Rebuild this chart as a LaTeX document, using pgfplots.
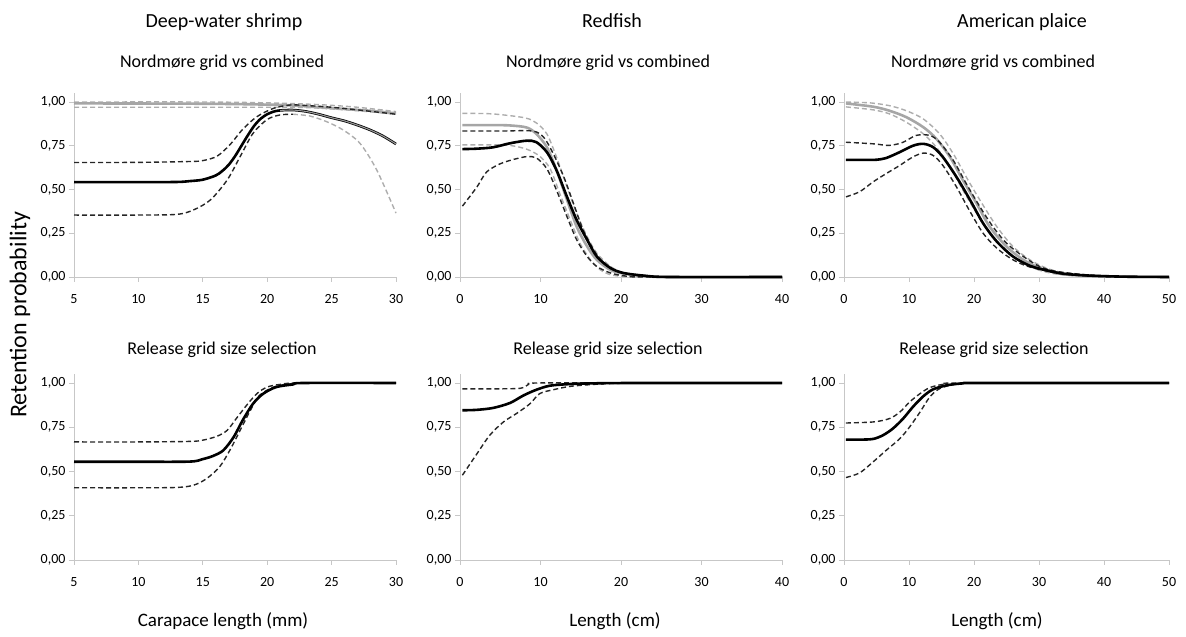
\documentclass[border=0pt]{standalone}
\usepackage{pgfplots}
\pgfplotsset{compat=1.18}
\usepackage{fontspec}
\setmainfont{Carlito}
\begin{document}
\begin{tikzpicture}
\path[use as bounding box] (0pt,0pt) rectangle (1186pt,637pt);
\pgfplotsset{
 panel/.style={scale only axis, axis x line=bottom, axis y line=left,
  axis line style={-, draw=black!22, line width=0.9pt},
  tick style={draw=black!22, line width=0.9pt}, tick align=outside, major tick length=5pt,
  ymin=0, ymax=1.05, ytick={0,0.25,0.5,0.75,1},
  yticklabel style={/pgf/number format/.cd, use comma, fixed, fixed zerofill, precision=2, assume math mode=true},
  xticklabel style={/pgf/number format/assume math mode=true, yshift=-9pt},
  ticklabel style={font=\fontsize{14}{16}\selectfont},
  anchor=south west, clip=false},
 toprow/.style={height=183.75pt, at={(#1pt,360pt)}},
 botrow/.style={height=185.85pt, at={(#1pt,77pt)}},
 blk/.style={black, line width=2.6pt, smooth},
 blkd/.style={black!85, line width=1.4pt, dash pattern=on 5pt off 3pt, smooth},
 gry/.style={black!35, line width=2.6pt, smooth},
 gryd/.style={black!32, line width=1.4pt, dash pattern=on 5pt off 3pt, smooth},
}
% ---------- Panel 1 ----------
\begin{axis}[panel, toprow=74, width=322pt, xmin=5, xmax=30, xtick={5,10,...,30}]
\addplot[gryd] coordinates {(5,1.0)(15,1.0)(20,0.995)(24,0.985)(27,0.97)(30,0.945)};
\addplot[gry] coordinates {(5,0.992)(15,0.99)(20,0.985)(22,0.98)(24,0.97)(26,0.96)(28,0.95)(30,0.935)};
\addplot[gryd] coordinates {(5,0.97)(20,0.97)(22,0.97)(24,0.965)(27,0.95)(30,0.93)};
\addplot[gryd] coordinates {(22,0.93)(23.3,0.92)(24.6,0.888)(25.9,0.84)(27.2,0.764)(28.5,0.612)(30,0.365)};
\addplot[blkd] coordinates {(5,0.654)(10,0.655)(14,0.66)(15,0.665)(16.1,0.69)(17.1,0.755)(18.1,0.844)(19.2,0.916)(20.5,0.964)(21.8,0.983)(23,0.98)(25,0.97)(27,0.955)(30,0.93)};
\addplot[blkd] coordinates {(5,0.354)(10,0.354)(13,0.358)(14.3,0.384)(15.6,0.441)(16.9,0.555)(17.9,0.688)(18.9,0.821)(20,0.90)(21,0.926)(22,0.93)};
\addplot[blk] coordinates {(5,0.542)(10,0.542)(13,0.543)(14,0.548)(15,0.556)(16,0.58)(16.5,0.605)(17,0.64)(17.5,0.69)(18,0.75)(18.5,0.81)(19,0.865)(19.5,0.905)(20,0.93)(20.5,0.945)(21,0.952)(22,0.954)(23,0.946)(24,0.93)(25,0.91)(26,0.892)(27,0.868)(28,0.84)(29,0.805)(30,0.76)};
\addplot[black!40, line width=1.1pt, smooth] coordinates {(21,0.952)(22,0.954)(23,0.946)(24,0.93)(25,0.91)(26,0.892)(27,0.868)(28,0.84)(29,0.805)(30,0.76)};
\end{axis}
% ---------- Panel 2 ----------
\begin{axis}[panel, toprow=460, width=322pt, xmin=0, xmax=40, xtick={0,10,...,40}]
\addplot[gryd] coordinates {(0.3,0.935)(4,0.932)(8,0.91)(9.5,0.88)(10.8,0.817)(12,0.684)(13.3,0.514)(14.5,0.363)(15.8,0.23)(17,0.136)(18.7,0.06)(20.5,0.02)(23,0.004)(26,0)(40,0)};
\addplot[gryd] coordinates {(0.3,0.755)(4,0.755)(6.2,0.752)(8.3,0.73)(9.9,0.69)(11.2,0.618)(12.4,0.476)(13.7,0.325)(14.9,0.193)(16.2,0.098)(17.4,0.042)(18.7,0.013)(20.5,0.003)(23,0)(40,0)};
\addplot[gry] coordinates {(0.3,0.868)(4,0.868)(6.2,0.866)(8.3,0.854)(9.5,0.817)(10.8,0.741)(12,0.609)(13.3,0.44)(14.5,0.287)(15.8,0.174)(17,0.098)(18.7,0.04)(20.3,0.02)(23,0.005)(26,0)(40,0)};
\addplot[blkd] coordinates {(0.3,0.834)(5,0.834)(9,0.834)(10.4,0.798)(11.6,0.703)(12.9,0.571)(14.1,0.42)(15.3,0.268)(16.6,0.155)(17.8,0.079)(19.5,0.032)(21.2,0.013)(24,0.003)(27,0)(40,0)};
\addplot[blkd] coordinates {(0.3,0.405)(2.1,0.514)(3.3,0.6)(5,0.647)(6.6,0.671)(8.3,0.688)(9.5,0.68)(10.8,0.618)(12,0.495)(13.3,0.344)(14.5,0.212)(15.8,0.117)(17,0.06)(18.7,0.023)(20.5,0.006)(23,0)(40,0)};
\addplot[blk] coordinates {(0.3,0.731)(2,0.733)(4.1,0.741)(6.2,0.764)(8.3,0.779)(9.5,0.77)(10.8,0.713)(12,0.609)(13.3,0.457)(14.5,0.325)(15.8,0.212)(17,0.117)(18.7,0.051)(20.3,0.023)(22.8,0.008)(26,0)(40,0)};
\end{axis}
% ---------- Panel 3 ----------
\begin{axis}[panel, toprow=844, width=325pt, xmin=0, xmax=50, xtick={0,10,...,50}]
\addplot[gryd] coordinates {(0.3,1.0)(4,0.995)(7,0.979)(9.6,0.95)(12.2,0.903)(14.7,0.818)(16.8,0.705)(18.8,0.572)(20.9,0.44)(23.5,0.288)(26,0.174)(28.6,0.098)(31.2,0.05)(34,0.022)(38,0.007)(43,0.001)(50,0)};
\addplot[gryd] coordinates {(0.3,0.972)(4.5,0.955)(7,0.932)(9.6,0.884)(12.2,0.818)(14.2,0.742)(16.3,0.629)(18.3,0.496)(20.4,0.364)(22.4,0.25)(25,0.146)(27.6,0.08)(30.1,0.038)(33,0.015)(37,0.004)(42,0)(50,0)};
\addplot[gry] coordinates {(0.3,0.992)(4.5,0.973)(7,0.95)(9.6,0.913)(12.2,0.856)(14.2,0.79)(16.3,0.686)(18.3,0.553)(20.4,0.42)(22.4,0.288)(25,0.174)(27.6,0.098)(30.1,0.051)(32.7,0.023)(35.3,0.011)(40.4,0.004)(45,0.001)(50,0)};
\addplot[blkd] coordinates {(0.3,0.77)(4.5,0.761)(7,0.752)(9.1,0.77)(11.1,0.809)(13.2,0.809)(14.7,0.77)(16.8,0.667)(18.8,0.534)(20.9,0.402)(22.9,0.288)(25,0.193)(27.6,0.117)(30.1,0.06)(32.7,0.032)(37.8,0.011)(43,0.002)(50,0)};
\addplot[blkd] coordinates {(0.3,0.458)(2.4,0.487)(4.5,0.544)(6.5,0.591)(8.6,0.638)(10.6,0.686)(12.2,0.708)(13.7,0.695)(15.2,0.638)(17.3,0.515)(19.4,0.373)(21.4,0.25)(23.5,0.165)(26,0.098)(28.6,0.057)(32.7,0.023)(37,0.007)(42,0.001)(50,0)};
\addplot[blk] coordinates {(0.3,0.669)(3,0.669)(5,0.67)(6.5,0.68)(8.6,0.714)(10.6,0.75)(12.2,0.761)(13.7,0.742)(15.2,0.686)(17.3,0.572)(19.4,0.44)(21.4,0.307)(23.5,0.203)(26,0.117)(28.6,0.064)(31.2,0.038)(33.7,0.019)(37.8,0.008)(43,0.002)(50,0)};
\end{axis}
% ---------- Panel 4 ----------
\begin{axis}[panel, botrow=74, width=322pt, xmin=5, xmax=30, xtick={5,10,...,30}]
\addplot[blkd] coordinates {(5,0.667)(10,0.667)(14,0.67)(15,0.677)(16.1,0.699)(16.9,0.733)(17.6,0.799)(18.4,0.874)(19.2,0.94)(20,0.977)(21,0.992)(22.5,1.0)(30,1.0)};
\addplot[blkd] coordinates {(5,0.408)(10,0.408)(13,0.41)(14.3,0.423)(15.3,0.46)(16.3,0.526)(17.1,0.62)(17.9,0.733)(18.7,0.846)(19.4,0.93)(20.5,0.977)(21.5,0.992)(23,1.0)(30,1.0)};
\addplot[blk] coordinates {(5,0.555)(10,0.555)(14,0.556)(15,0.57)(15.8,0.588)(16.6,0.62)(17.4,0.695)(18.1,0.79)(18.9,0.883)(19.7,0.94)(20.7,0.977)(22,0.992)(22.8,1.0)(30,1.0)};
\end{axis}
% ---------- Panel 5 ----------
\begin{axis}[panel, botrow=460, width=322pt, xmin=0, xmax=40, xtick={0,10,...,40}]
\addplot[blkd] coordinates {(0.3,0.967)(4,0.967)(7.5,0.97)(8.5,0.992)(9.5,1.0)(20,1.0)(40,1.0)};
\addplot[blkd] coordinates {(0.3,0.479)(2.1,0.6)(3.7,0.705)(5.4,0.78)(7,0.827)(8.7,0.883)(9.9,0.94)(11.6,0.962)(13.7,0.981)(16.6,0.992)(19.5,0.998)(25,1.0)(40,1.0)};
\addplot[blk] coordinates {(0.3,0.846)(2,0.848)(4.1,0.859)(6.2,0.887)(7.9,0.93)(9.5,0.962)(11.2,0.985)(13.7,0.994)(16.6,0.998)(22,1.0)(40,1.0)};
\end{axis}
% ---------- Panel 6 ----------
\begin{axis}[panel, botrow=844, width=325pt, xmin=0, xmax=50, xtick={0,10,...,50}]
\addplot[blkd] coordinates {(0.3,0.774)(4.5,0.78)(7,0.799)(8.6,0.836)(10.1,0.893)(11.7,0.94)(13.2,0.974)(15.2,0.992)(18,1.0)(50,1.0)};
\addplot[blkd] coordinates {(0.3,0.466)(2.4,0.492)(4.5,0.555)(6.5,0.62)(8.6,0.686)(10.1,0.752)(11.7,0.836)(13.2,0.921)(14.7,0.968)(16.8,0.991)(18.8,0.998)(22,1.0)(50,1.0)};
\addplot[blk] coordinates {(0.3,0.68)(2.5,0.68)(4.5,0.684)(6,0.705)(7.5,0.742)(9.1,0.799)(10.6,0.865)(12.2,0.925)(13.7,0.964)(15.8,0.987)(18.3,0.998)(21,1.0)(50,1.0)};
\end{axis}
% ---------- Text ----------
\node[anchor=base, font=\fontsize{20}{24}\selectfont] at (224pt,609pt) {Deep-water shrimp};
\node[anchor=base, font=\fontsize{20}{24}\selectfont] at (612pt,609pt) {Redfish};
\node[anchor=base, font=\fontsize{20}{24}\selectfont] at (1022pt,609pt) {American plaice};
\node[anchor=base, font=\fontsize{18}{22}\selectfont] at (222pt,569pt) {Nordmøre grid vs combined};
\node[anchor=base, font=\fontsize{18}{22}\selectfont] at (608pt,569pt) {Nordmøre grid vs combined};
\node[anchor=base, font=\fontsize{18}{22}\selectfont] at (993pt,569pt) {Nordmøre grid vs combined};
\node[anchor=base, font=\fontsize{18}{22}\selectfont] at (222pt,282pt) {Release grid size selection};
\node[anchor=base, font=\fontsize{18}{22}\selectfont] at (608pt,282pt) {Release grid size selection};
\node[anchor=base, font=\fontsize{18}{22}\selectfont] at (994pt,282pt) {Release grid size selection};
\node[anchor=base, font=\fontsize{19}{23}\selectfont] at (223pt,10pt) {Carapace length (mm)};
\node[anchor=base, font=\fontsize{19}{23}\selectfont] at (615pt,10pt) {Length (cm)};
\node[anchor=base, font=\fontsize{19}{23}\selectfont] at (997pt,10pt) {Length (cm)};
\node[rotate=90, font=\fontsize{24}{28}\selectfont] at (20pt,322pt) {Retention probability};
\end{tikzpicture}
\end{document}
